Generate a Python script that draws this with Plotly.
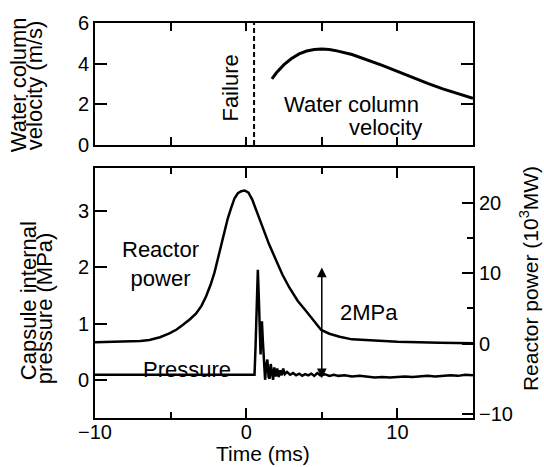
import plotly.graph_objects as go

# ---------------- data ----------------
# Water column velocity (m/s) vs time (ms)
time_vel = [1.7, 2.0, 2.5, 3.0, 3.5, 4.0, 4.5, 5.0, 5.5, 6.0, 7.0, 8.0, 9.0, 10.0, 11.0, 12.0, 13.0, 14.0, 15.0]
velocity = [3.25, 3.55, 3.95, 4.25, 4.48, 4.62, 4.70, 4.72, 4.70, 4.63, 4.45, 4.20, 3.92, 3.62, 3.32, 3.03, 2.76, 2.52, 2.30]

failure_time = 0.52
vel_range = [0, 6]

# Reactor power (10^3 MW) vs time (ms)
time_pow = [-10, -8, -7, -6.4, -5.7, -5.08, -4.6, -4.2, -3.7, -3.31, -2.95, -2.65, -2.35, -2.1, -1.9,
            -1.66, -1.45, -1.22, -1.0, -0.77, -0.55, -0.33, -0.1, 0.15, 0.4, 0.66, 0.9, 1.1, 1.5, 1.99,
            2.4, 2.86, 3.4, 3.97, 4.5, 4.96, 5.5, 6.18, 7.0, 8.4, 10.0, 12.8, 15.0]
power = [0.2, 0.25, 0.35, 0.5, 0.9, 1.45, 2.0, 2.66, 3.5, 4.3, 5.4, 6.75, 8.4, 10.1, 11.9,
         14.0, 15.9, 17.8, 19.3, 20.7, 21.4, 21.7, 21.8, 21.5, 20.5, 19.0, 17.8, 16.6, 14.2, 11.8,
         9.8, 7.95, 6.1, 4.6, 3.2, 1.94, 1.4, 0.97, 0.6, 0.4, 0.25, 0.1, 0.05]

# Capsule internal pressure (MPa) vs time (ms)
time_pres = [-10, 0.55, 0.62, 0.7, 0.77, 0.83, 0.9, 0.95, 1.0, 1.04, 1.1, 1.18, 1.25, 1.32, 1.4, 1.48,
             1.55, 1.62, 1.7, 1.78, 1.86, 1.95, 2.05, 2.15, 2.25, 2.35, 2.45, 2.55, 2.7, 2.9, 3.1,
             3.3, 3.5, 3.7, 3.9, 4.1, 4.3, 4.5, 4.7, 4.9, 5.2, 5.5, 5.8, 6.1, 6.5, 7.0, 7.5, 8.0,
             8.5, 9.0, 9.5, 10.0, 10.5, 11.0, 11.5, 12.0, 12.5, 13.0, 13.5, 14.0, 14.5, 15.0]
pressure = [0.09, 0.09, 0.6, 1.6, 1.96, 1.5, 0.6, 0.45, 0.9, 1.04, 0.7, 0.2, 0.0, 0.25, 0.36, 0.05,
            0.02, 0.28, 0.08, 0.0, 0.22, 0.06, 0.2, 0.05, 0.17, 0.08, 0.2, 0.1, 0.14, 0.09, 0.12,
            0.08, 0.11, 0.07, 0.1, 0.08, 0.11, 0.07, 0.12, 0.08, 0.1, 0.07, 0.09, 0.07, 0.08, 0.06, 0.07, 0.05,
            0.04, 0.05, 0.04, 0.05, 0.06, 0.05, 0.06, 0.07, 0.06, 0.07, 0.08, 0.07, 0.09, 0.08]

# 2 MPa scale arrow
arrow_time = 5.0
arrow_pres = [0.0, 2.0]

FONT = "Liberation Sans, Arial, sans-serif"
TICK = 20
LAB = 22

fig = go.Figure()
fig.add_trace(go.Scatter(x=time_vel, y=velocity, xaxis="x", yaxis="y", mode="lines",
                         line=dict(color="black", width=3), showlegend=False))
fig.add_trace(go.Scatter(x=[failure_time, failure_time], y=vel_range, xaxis="x", yaxis="y", mode="lines",
                         line=dict(color="black", width=2, dash="5px,3px"), showlegend=False))
fig.add_trace(go.Scatter(x=time_pow, y=power, xaxis="x2", yaxis="y3", mode="lines",
                         line=dict(color="black", width=2.5), showlegend=False))
fig.add_trace(go.Scatter(x=time_pres, y=pressure, xaxis="x2", yaxis="y2", mode="lines",
                         line=dict(color="black", width=2.5), showlegend=False))

ax_common = dict(showgrid=False, zeroline=False, showline=True, linecolor="black", linewidth=2,
                 ticks="inside", tickcolor="black", tickwidth=2,
                 tickfont=dict(family=FONT, size=TICK, color="black"))

fig.update_layout(
    width=544, height=467,
    margin=dict(l=95, r=71, t=23, b=49),
    paper_bgcolor="white", plot_bgcolor="white",
    xaxis=dict(domain=[0, 1], anchor="y", range=[-10, 15], tick0=0, dtick=5, ticklen=8,
               showticklabels=False, mirror="ticks", **ax_common),
    yaxis=dict(domain=[0.6911, 1], anchor="x", range=vel_range, dtick=2, ticklen=12,
               mirror="ticks", **ax_common),
    xaxis2=dict(domain=[0, 1], anchor="y2", range=[-10, 15], tick0=0, dtick=10, ticklen=10,
                ticklabelstandoff=-5,
                minor=dict(dtick=5, ticklen=6, ticks="inside", tickcolor="black", tickwidth=2),
                mirror="ticks", **ax_common),
    yaxis2=dict(domain=[0, 0.6329], anchor="x2", range=[-0.68, 3.77], dtick=1, ticklen=12,
                **ax_common),
    yaxis3=dict(overlaying="y2", side="right", anchor="x2", range=[-10.6, 25],
                tickvals=[-10, 0, 10, 20], ticklen=11,
                minor=dict(tickvals=[5, 15], ticklen=6, ticks="inside", tickcolor="black", tickwidth=2),
                **ax_common),
)

def txt(text, x, y, xref, yref, angle=0, xanchor="center", size=LAB):
    fig.add_annotation(text=text, x=x, y=y, xref=xref, yref=yref, showarrow=False,
                       textangle=angle, xanchor=xanchor, yanchor="middle",
                       font=dict(family=FONT, size=size, color="black"))

# axis titles
txt("Water column", -0.203, 0.843, "paper", "paper", angle=-90)
txt("velocity (m/s)", -0.161, 0.843, "paper", "paper", angle=-90)
txt("Capsule internal", -0.177, 0.296, "paper", "paper", angle=-90)
txt("pressure (MPa)", -0.135, 0.278, "paper", "paper", angle=-90)
txt("Reactor power (10<sup>3</sup>MW)", 1.148, 0.354, "paper", "paper", angle=-90, size=21)
txt("Time (ms)", 0.444, -0.091, "paper", "paper", size=21)

# in-plot labels
txt("Failure", -1.04, 2.8, "x", "y", angle=-90)
txt("Water column", 6.94, 2.0, "x", "y")
txt("velocity", 11.75, 0.88, "x", "y", xanchor="right")
txt("Reactor<br>power", -5.67, 2.07, "x2", "y2")
txt("Pressure", -3.89, 0.18, "x2", "y2")
txt("2MPa", 8.1, 1.19, "x2", "y2")

# double-headed arrow
fig.add_annotation(x=arrow_time, y=arrow_pres[1], ax=arrow_time, ay=arrow_pres[0],
                   xref="x2", yref="y2", axref="x2", ayref="y2", text="", showarrow=True,
                   arrowhead=2, startarrowhead=2, arrowside="end+start", arrowsize=1.3,
                   arrowwidth=1.5, arrowcolor="black")

fig.write_html("out.html")
